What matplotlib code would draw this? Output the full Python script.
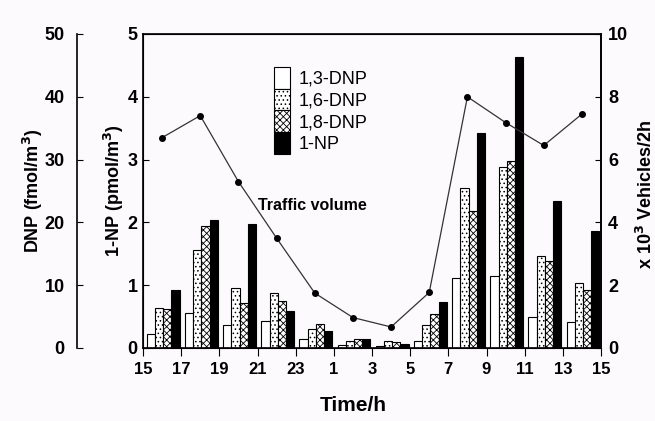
import numpy as np
import matplotlib
matplotlib.use("Agg")
import matplotlib.pyplot as plt

# time axis (2 h sampling intervals, 15:00 -> 15:00 next day)
hour_labels = ["15", "17", "19", "21", "23", "1", "3", "5", "7", "9", "11", "13", "15"]

# DNP isomers, fmol/m3
dnp_13 = [2.3, 5.5, 3.7, 4.3, 1.4, 0.5, 0.3, 1.1, 11.1, 11.5, 5.0, 4.1]
dnp_16 = [6.3, 15.6, 9.6, 8.8, 3.0, 1.1, 1.1, 3.6, 25.4, 28.8, 14.7, 10.3]
dnp_18 = [6.2, 19.4, 7.1, 7.5, 3.9, 1.4, 1.0, 5.4, 21.8, 29.8, 13.8, 9.3]
# 1-NP, pmol/m3
np_1 = [0.92, 2.04, 1.98, 0.59, 0.27, 0.14, 0.07, 0.74, 3.42, 4.63, 2.34, 1.86]
# traffic volume, x10^3 vehicles / 2h
traffic = [6.7, 7.4, 5.3, 3.5, 1.75, 0.97, 0.67, 1.77, 8.0, 7.18, 6.45, 7.45]

bg = "#fdfafd"
plt.rcParams["font.family"] = ["Liberation Sans", "DejaVu Sans"]
plt.rcParams["font.size"] = 12
plt.rcParams["font.weight"] = "bold"
plt.rcParams["mathtext.default"] = "bf"
plt.rcParams["hatch.linewidth"] = 0.6

fig = plt.figure(figsize=(6.55, 4.21), dpi=100, facecolor=bg)
rect = [143 / 655, 1 - 348 / 421, (601 - 143) / 655, (348 - 34) / 421]

ax_dnp = fig.add_axes(rect, facecolor=bg)
ax_np = fig.add_axes(rect, facecolor="none")
ax_tr = ax_np.twinx()

n = len(traffic)
start = np.arange(n) * 2
w = 0.43
off = 0.2

b13 = ax_dnp.bar(start + off, dnp_13, w, align="edge", color="white",
                 edgecolor="black", lw=0.8, label="1,3-DNP")
b16 = ax_dnp.bar(start + off + w, dnp_16, w, align="edge", color="white",
                 edgecolor="black", lw=0.8, hatch="....", label="1,6-DNP")
b18 = ax_dnp.bar(start + off + 2 * w, dnp_18, w, align="edge", color="white",
                 edgecolor="black", lw=0.8, hatch="xxxxx", label="1,8-DNP")
bnp = ax_np.bar(start + off + 3 * w, np_1, w, align="edge", color="black",
                edgecolor="black", lw=0.8, label="1-NP")

ax_tr.plot(start + 1, traffic, color="#333333", lw=0.9, marker="o",
           markersize=4, markerfacecolor="black", markeredgecolor="black")

for a in (ax_dnp, ax_np, ax_tr):
    a.set_xlim(0, 24)

# DNP axis: detached spine on the far left
ax_dnp.set_ylim(0, 50)
ax_dnp.set_yticks(np.arange(0, 51, 10))
for s in ("top", "right", "bottom"):
    ax_dnp.spines[s].set_visible(False)
ax_dnp.spines["left"].set_position(("outward", 47.5))
ax_dnp.spines["left"].set_linewidth(1.2)
ax_dnp.tick_params(axis="y", direction="in", length=4, pad=9, labelsize=13)
ax_dnp.set_xticks([])
ax_dnp.set_ylabel("DNP (fmol/m$^3$)", fontsize=13, fontweight="bold")
ax_dnp.yaxis.set_label_coords(-0.213, 0.5)

# 1-NP axis
ax_np.set_ylim(0, 5)
ax_np.set_yticks(np.arange(0, 6, 1))
ax_np.tick_params(axis="y", direction="in", length=4, pad=4, labelsize=13)
ax_np.set_xticks(np.arange(0, 25, 2))
ax_np.set_xticklabels(hour_labels)
ax_np.tick_params(axis="x", direction="out", length=6, pad=4, labelsize=12)
for s in ax_np.spines.values():
    s.set_linewidth(1.2)
ax_np.set_ylabel("1-NP (pmol/m$^3$)", fontsize=13, fontweight="bold")
ax_np.yaxis.set_label_coords(-0.037, 0.5)
ax_np.set_xlabel("Time/h", fontsize=15, fontweight="bold")
ax_np.xaxis.set_label_coords(0.458, -0.152)

# traffic axis
ax_tr.set_ylim(0, 10)
ax_tr.set_yticks(np.arange(0, 11, 2))
ax_tr.tick_params(axis="y", direction="in", length=4, pad=5, labelsize=13)
ax_tr.spines["right"].set_linewidth(1.2)
ax_tr.set_ylabel("x 10$^3$ Vehicles/2h", fontsize=13, fontweight="bold",
                 rotation=90)
ax_tr.yaxis.set_label_coords(1.0764, 0.49)

ax_tr.text(0.251, 0.455, "Traffic volume", transform=ax_np.transAxes,
           fontsize=11.5, fontweight="bold", va="center", ha="left")

ax_tr.legend(handles=[b13, b16, b18, bnp], loc="upper left",
             bbox_to_anchor=(274 / 655, 1 - 67 / 421),
             bbox_transform=fig.transFigure, frameon=False, borderpad=0,
             borderaxespad=0, labelspacing=0, handlelength=0.9,
             handleheight=1.47, handletextpad=0.45,
             prop={"size": 13, "weight": "normal"})

fig.savefig("out.png", dpi=100, facecolor=bg)
